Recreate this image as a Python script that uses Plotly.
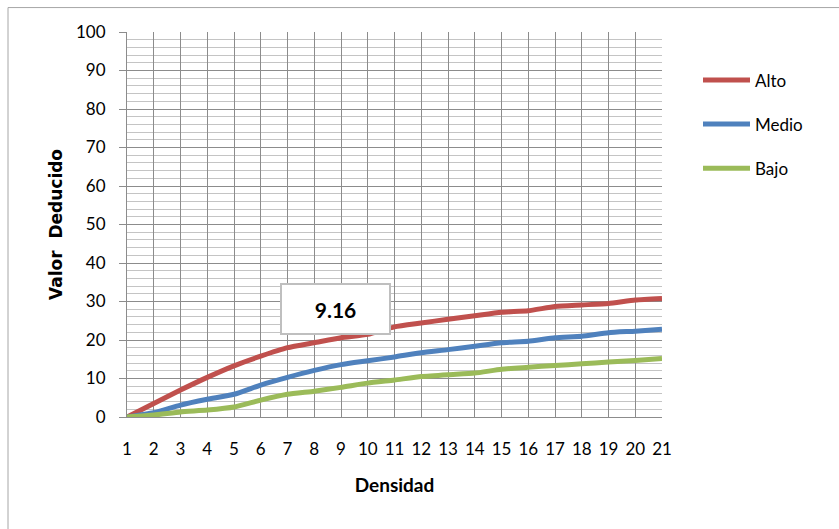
import plotly.graph_objects as go

densidad = list(range(1, 22))
alto = [0, 3.5, 7.0, 10.3, 13.3, 15.8, 18.0, 19.3, 20.6, 21.5, 23.4, 24.4, 25.4, 26.3, 27.2, 27.6, 28.7, 29.1, 29.5, 30.4, 30.8]
medio = [0, 1.1, 3.1, 4.6, 5.9, 8.3, 10.3, 12.1, 13.6, 14.6, 15.6, 16.7, 17.5, 18.4, 19.3, 19.7, 20.6, 21.0, 21.9, 22.3, 22.8]
bajo = [0, 0.5, 1.3, 1.8, 2.6, 4.4, 5.9, 6.7, 7.7, 8.8, 9.6, 10.5, 11.0, 11.4, 12.4, 12.9, 13.4, 13.8, 14.3, 14.7, 15.2]
series_names = ["Alto", "Medio", "Bajo"]
series_colors = ["#C0504D", "#4F81BD", "#9BBB59"]
label_text = "9.16"
label_x, label_y = 8.78, 28.1

fig = go.Figure()
for name, vals, col in zip(series_names, [alto, medio, bajo], series_colors):
    fig.add_trace(go.Scatter(x=densidad, y=vals, name=name, mode="lines",
                             line=dict(color=col, width=5, shape="spline", smoothing=0.5),
                             legendgroup=name))

W, H = 839, 529
L, R, T, B = 127, 662, 31.5, 417.5
pw, ph = R - L, B - T

fig.update_layout(
    width=W, height=H,
    margin=dict(l=L, r=W - R, t=T, b=H - B, autoexpand=False),
    paper_bgcolor="white", plot_bgcolor="white",
    font=dict(family="Lato", size=17, color="black"),
    showlegend=True,
    legend=dict(x=(698 - L) / pw, y=(417.5 - 62) / ph, xanchor="left", yanchor="top",
                font=dict(family="Lato", size=17, color="black"),
                tracegroupgap=19, itemwidth=47, bgcolor="rgba(0,0,0,0)"),
    xaxis=dict(range=[1, 21], tickmode="array", tickvals=densidad,
               ticktext=[str(d) for d in densidad], automargin=False,
               showgrid=True, gridcolor="#8C8C8C", gridwidth=1,
               showline=True, linecolor="#8C8C8C", linewidth=1, mirror=False,
               ticks="", zeroline=False, ticklabelstandoff=17,
               title=dict(text="<b>Densidad</b>", font=dict(family="Lato", size=19), standoff=20)),
    yaxis=dict(range=[0, 100], dtick=10, tick0=0, automargin=False,
               showgrid=True, gridcolor="#8C8C8C", gridwidth=1,
               minor=dict(dtick=2, showgrid=True, gridcolor="#C4C4C4", gridwidth=1),
               showline=True, linecolor="#8C8C8C", linewidth=1,
               ticks="outside", ticklen=7, tickcolor="#8C8C8C", zeroline=False,
               ticklabelstandoff=10,
               title=dict(text="<b>Valor  Deducido</b>", font=dict(family="DejaVu Sans", size=17), standoff=9)),
)

fig.add_annotation(x=label_x, y=label_y, xref="x", yref="y", text="<b>" + label_text + "</b>",
                   showarrow=False, font=dict(family="Lato", size=21, color="black"),
                   bgcolor="white", bordercolor="#BFBFBF", borderwidth=2, borderpad=0,
                   width=107, height=48)

fig.add_shape(type="rect", xref="paper", yref="paper",
              x0=(8 - L) / pw, x1=(845 - L) / pw, y0=(B - 535) / ph, y1=(B - 7) / ph,
              line=dict(color="#A6A6A6", width=1), fillcolor="rgba(0,0,0,0)", layer="below")

fig.write_html("out.html", config={"displayModeBar": False},
               post_script="document.body.style.margin='0';document.body.style.overflow='hidden';")
